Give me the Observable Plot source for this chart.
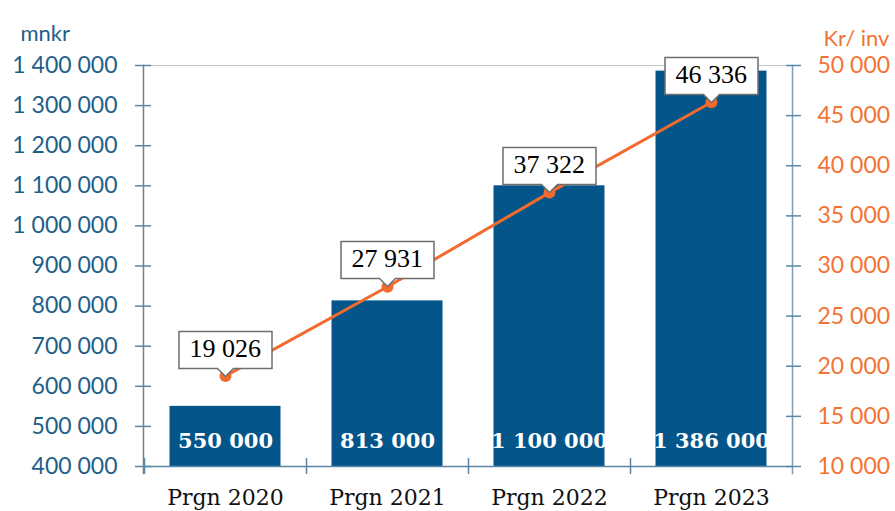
<!DOCTYPE html>
<html><head><meta charset="utf-8">
<script src="https://cdn.jsdelivr.net/npm/d3@7"></script>
<script src="https://cdn.jsdelivr.net/npm/@observablehq/plot@0.6"></script>
<style>
body{margin:0;background:#fff;}
#chart svg{display:block;}
g[aria-label="tip"], g[aria-label="tip"] *{filter:none !important;}
</style></head><body><div id="chart"></div>
<script>
const categories = ["Prgn 2020", "Prgn 2021", "Prgn 2022", "Prgn 2023"];
const totals = [550000, 813000, 1100000, 1386000];          // mnkr (left axis)
const perInhabitant = [19026, 27931, 37322, 46336];         // Kr/ inv (right axis)
const leftTicks = [400000, 500000, 600000, 700000, 800000, 900000, 1000000, 1100000, 1200000, 1300000, 1400000];
const rightTicks = [10000, 15000, 20000, 25000, 30000, 35000, 40000, 45000, 50000];
const leftTitle = "mnkr";
const rightTitle = "Kr/ inv";

const yMin = leftTicks[0], yMax = leftTicks[leftTicks.length - 1];
const rMin = rightTicks[0], rMax = rightTicks[rightTicks.length - 1];
const toLeft = v => yMin + (v - rMin) * (yMax - yMin) / (rMax - rMin);
const fromLeft = d => Math.round(rMin + (d - yMin) * (rMax - rMin) / (yMax - yMin));
const fmt = n => d3.format(",")(n).replace(/,/g, " ");

const data = categories.map((c, i) => ({cat: c, total: totals[i], per: perInhabitant[i], yL: toLeft(perInhabitant[i])}));

const blue = "#03558a", axisBlue = "#5b86a6", labelBlue = "#1d5f8a";
const orange = "#f26a2c", labelOrange = "#f27435";
const sans = "Lato, 'Open Sans', sans-serif", serif = "'DejaVu Serif', serif", times = "'Liberation Serif', serif";

const chart = Plot.plot({
  width: 895, height: 511,
  marginLeft: 143, marginRight: 103, marginTop: 65, marginBottom: 45,
  x: {type: "band", domain: categories, padding: 0},
  y: {domain: [yMin, yMax]},
  style: {background: "white", overflow: "visible"},
  marks: [
    Plot.ruleY([yMax], {stroke: "#c6c6c6", strokeWidth: 1.2}),
    Plot.barY(data, {x: "cat", y1: () => yMin, y2: "total", fill: blue, insetLeft: 25.5, insetRight: 25.5}),
    Plot.text(data, {x: "cat", y: () => yMin, dy: -25, text: d => fmt(d.total), fill: "white",
      fontFamily: serif, fontWeight: "bold", fontSize: 21}),
    Plot.ruleY([yMin], {stroke: axisBlue, strokeWidth: 1.5}),
    Plot.ruleX(categories, {x: d => d, dx: -81, y1: () => yMin, y2: () => yMin, insetTop: -8, insetBottom: -8,
      stroke: axisBlue, strokeWidth: 1.5}),
    Plot.frame({anchor: "left", stroke: axisBlue, strokeWidth: 1.5, insetBottom: -7}),
    Plot.frame({anchor: "right", stroke: "#7d9db5", strokeWidth: 1.5, insetBottom: -7}),
    // left axis (crossing ticks + labels)
    Plot.axisY({ticks: leftTicks, tickSize: 16, dx: 8, tickPadding: 18, tickFormat: fmt, color: labelBlue,
      stroke: axisBlue, strokeWidth: 1.5, fontSize: 23, fontFamily: sans, label: null}),
    // right axis
    Plot.axisY({anchor: "right", ticks: rightTicks.map(toLeft), tickSize: 15, dx: -7, tickPadding: 17,
      tickFormat: d => fmt(fromLeft(d)), color: labelOrange, stroke: axisBlue, strokeWidth: 1.5,
      fontSize: 23, fontFamily: sans, label: null}),
    // x axis labels
    Plot.axisX({tickSize: 0, tickPadding: 23, color: "#111", fontSize: 22, fontFamily: serif, label: null}),
    // line
    Plot.line(data, {x: "cat", y: "yL", stroke: orange, strokeWidth: 3}),
    Plot.dot(data, {x: "cat", y: "yL", r: 6, fill: orange}),
    Plot.tip(data, {x: "cat", y: "yL", title: d => "\u00a0" + fmt(d.per) + "\u00a0", anchor: "bottom",
      pointerSize: 16, textPadding: 4, fontSize: 26, fontFamily: times, fill: "white", stroke: "#6e6e6e", strokeWidth: 1.5}),
    // titles
    Plot.text([leftTitle], {frameAnchor: "top-left", dx: -123, dy: -40, textAnchor: "start",
      fill: labelBlue, fontSize: 22, fontFamily: sans}),
    Plot.text([rightTitle], {frameAnchor: "top-right", dx: 31, dy: -35, textAnchor: "start",
      fill: labelOrange, fontSize: 22, fontFamily: sans})
  ]
});
document.getElementById("chart").append(chart);
</script>
</body></html>
